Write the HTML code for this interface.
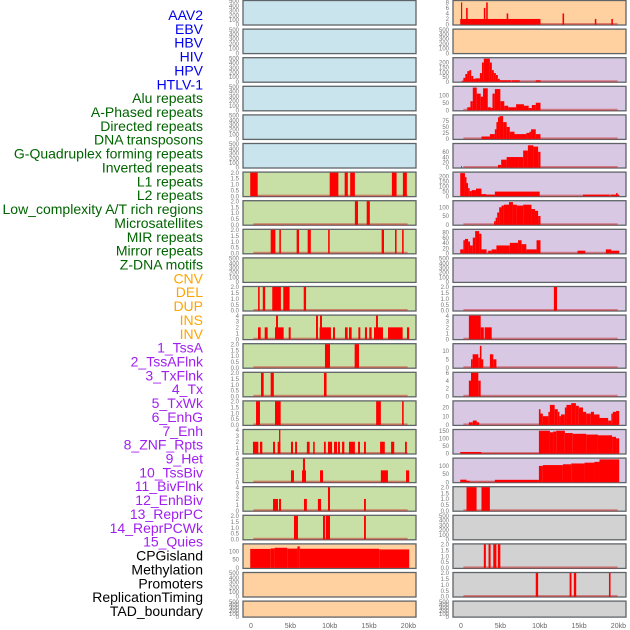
<!DOCTYPE html>
<html><head><meta charset="utf-8"><style>
body{margin:0;background:#fff;width:630px;height:630px;overflow:hidden}
svg{display:block;font-family:"Liberation Sans",sans-serif}
</style></head><body>
<svg id="c" width="630" height="630" viewBox="0 0 630 630"></svg>
<script>
const trackLabels=["AAV2","EBV","HBV","HIV","HPV","HTLV-1","Alu repeats","A-Phased repeats","Directed repeats","DNA transposons","G-Quadruplex forming repeats","Inverted repeats","L1 repeats","L2 repeats","Low_complexity A/T rich regions","Microsatellites","MIR repeats","Mirror repeats","Z-DNA motifs","CNV","DEL","DUP","INS","INV","1_TssA","2_TssAFlnk","3_TxFlnk","4_Tx","5_TxWk","6_EnhG","7_Enh","8_ZNF_Rpts","9_Het","10_TssBiv","11_BivFlnk","12_EnhBiv","13_ReprPC","14_ReprPCWk","15_Quies","CPGisland","Methylation","Promoters","ReplicationTiming","TAD_boundary"];
const labelGroups=[6,13,5,15,5];
const groupColors=["#0000ee","#006400","#ffa500","#a020f0","#000000"];
const xTicks=[0,5,10,15,20];
const xTickLabels=["0","5kb","10kb","15kb","20kb"];
const ticksEmpty=[0,100,200,300,400,500];
const ticks2=[0,0.5,1,1.5,2];
const ticks4=[0,1,2,3,4];
// left column segments [startKb,endKb,value]
const L6=[[-0.1,0.85,2],[10,11.1,2],[11.9,12.3,2],[12.6,13.2,2],[17.9,18.5,2],[19.3,19.8,2]];
const L7=[[13.2,13.6,2],[14.7,15.1,2]];
const L8=[[2.5,3.1,2],[3.6,3.8,2],[5.8,6.1,2],[7.2,7.6,2],[9.8,10,2],[16.6,16.9,2],[18.3,18.5,2],[19.2,19.4,2]];
const L10=[[0.9,1.1,2],[1.5,1.8,2],[2.7,3.8,2],[4.1,4.9,2],[6.7,7,2]];
const L11=[[0.89,1.23,2],[1.74,2.12,2],[3.05,4.15,2],[3.18,3.43,4],[4.79,5.04,2],[8.26,8.51,4],[8.72,10.16,2],[8.77,9.02,4],[10.42,10.67,2],[11.94,12.28,2],[12.45,12.79,2],[13.64,13.89,2],[14.48,14.74,2],[15.03,15.33,2],[15.63,16.77,2],[15.88,16.13,4],[17.41,19.27,2],[19.82,20.1,2]];
const L12=[[9.4,10.04,2],[13.17,13.72,2]];
const L13=[[1.27,1.61,2],[2.5,2.9,2],[9.27,9.6,2]];
const L14=[[0.64,1.14,2],[3.05,3.77,2],[15.9,16.5,2],[19.2,19.4,2]];
const L15=[[0.25,0.93,2],[1.14,1.44,2],[2.8,3.05,2],[3.39,3.73,2],[3.56,3.73,4],[5.08,5.34,2],[5.6,5.85,2],[7.1,7.45,2],[7.9,8.1,2],[9.27,9.5,2],[9.78,10.3,2],[10.55,10.93,2],[11.06,11.3,2],[11.57,11.86,2],[12.45,13.2,2],[13.6,13.85,2],[14.36,14.6,2],[16.4,17,2],[17.8,18.2,2],[19.57,19.8,2]];
const L16=[[5.08,5.46,2],[6.48,6.99,2],[6.6,6.86,4],[8.77,9.15,2],[16.5,17.4,2],[19.7,20.1,2]];
const L17=[[2.8,3.43,2],[3.56,3.81,2],[6.73,7.1,2],[8.5,8.9,2],[9.78,10.04,4],[14.36,14.6,2]];
const L18=[[5.46,5.97,2],[9.15,9.4,2],[9.5,10.04,2],[14.36,14.6,2]];
const L19=[[-0.1,2.5,113],[2.5,3,116],[3,4.6,120],[4.6,5.9,115],[5.9,6.2,128],[6.2,16.3,114],[16.3,20.1,110]];
// right column
const R0=[[-0.1,10.1,2],[0,0.15,8],[0.65,0.85,6],[2.9,3.1,6],[3.2,3.4,8],[5.8,6,4],[12.9,13.1,4],[17,17.2,2],[19.1,19.3,2]];
const R2=[[0.08,0.3,10],[0.3,0.55,40],[0.55,0.8,80],[0.8,1.05,110],[1.05,1.3,120],[1.3,1.56,60],[1.56,1.8,30],[1.8,2.4,35],[2.4,2.66,90],[2.66,2.9,200],[2.9,3.67,240],[3.67,3.92,200],[3.92,4.17,120],[4.17,4.43,90],[4.43,4.68,70],[4.68,4.93,30],[4.93,6.37,15],[6.45,7.47,15],[9.5,10.1,15]];
const R3=[[0.8,1.2,20],[1.2,1.5,60],[1.5,2,150],[2,2.5,110],[2.5,2.8,90],[2.8,3.4,145],[3.4,3.8,20],[3.8,4,15],[4,4.3,110],[4.3,5,140],[5,5.5,60],[5.5,6,30],[6,7,20],[7,8,40],[8,8.6,30],[8.6,9,15],[9,9.5,35],[9.5,10.1,50]];
const R4=[[2.6,3.67,10],[3.67,4.3,20],[4.3,4.5,40],[4.5,4.7,70],[4.7,4.9,90],[4.9,5.35,95],[5.35,5.8,70],[5.8,6.2,50],[6.2,6.8,30],[6.8,7.5,20],[7.5,8.3,20],[8.3,8.7,25],[8.7,8.9,30],[8.9,9.5,40],[9.5,10.1,20]];
const R5=[[0,0.1,5],[4.7,5.1,10],[5.1,5.8,30],[5.8,7.3,40],[7.3,7.9,40],[7.9,8.5,65],[8.5,9.2,85],[9.2,9.8,80],[9.8,10.1,60]];
const R6=[[-0.1,0.5,230],[0.5,0.7,190],[0.7,0.9,130],[0.9,1.1,80],[1.1,1.35,50],[1.35,1.9,60],[1.9,2.6,75],[2.6,3.2,20],[3.2,4.3,15],[4.3,10,45],[15.5,18.9,15],[19,19.7,15],[19.7,19.9,30],[19.9,20.1,15]];
const R7=[[4.2,4.4,20],[4.4,4.6,40],[4.6,4.85,70],[4.85,5.15,100],[5.15,5.45,110],[5.45,6.1,115],[6.1,6.6,130],[6.6,7.1,115],[7.1,7.9,110],[7.9,8.95,115],[8.95,9.4,90],[9.4,9.8,80],[9.8,10.1,50]];
const R8=[[-0.1,0.3,15],[0.3,0.5,50],[0.5,0.9,55],[0.9,1.15,45],[1.15,1.5,30],[1.5,1.8,60],[1.8,2.3,85],[2.3,2.6,75],[2.6,3.25,15],[3.45,3.9,10],[3.9,4.5,15],[4.5,6.2,30],[6.2,7.25,40],[7.25,7.7,50],[7.7,8.3,35],[8.3,9.6,15],[9.6,10.1,50],[14.8,15.8,10],[18.4,19.1,15],[19.1,20.1,10]];
const R10=[[11.8,12.2,2]];
const R11=[[1,2.5,4],[2.5,2.9,2],[3,3.9,2]];
const R12=[[1.27,1.48,5],[1.48,2.2,8],[2.2,2.4,6],[2.4,2.6,13],[2.6,2.83,5],[3.67,4.1,8],[4.1,4.5,5]];
const R13=[[1,1.27,4],[1.27,2.2,6],[2.2,2.5,4]];
const R14=[[1,1.5,3],[1.5,2,5],[2,2.3,3],[9.9,10.1,18],[10.1,10.4,13],[10.4,11.1,10],[11.1,11.3,15],[11.3,11.9,23],[11.9,12.3,18],[12.3,12.5,15],[12.5,12.7,10],[12.7,13.2,12],[13.2,13.4,20],[13.4,14,23],[14,14.6,25],[14.6,14.97,22],[14.97,15.5,20],[15.5,15.9,15],[15.9,16.5,13],[16.5,16.9,15],[16.9,17.6,12],[17.6,18.7,8],[18.7,19.1,5],[19.1,19.3,13],[19.3,19.7,15],[19.7,20.1,16]];
const R15=[[-0.1,2.6,10],[2.6,9.9,2],[9.9,11.3,150],[11.3,11.7,140],[11.7,12.1,145],[12.1,13.2,150],[13.2,14.2,135],[14.2,15.9,130],[15.9,17.4,125],[17.4,19.2,120],[19.2,19.7,110],[19.7,20.1,100]];
const R16=[[-0.1,0.7,15],[0.7,1.1,8],[1.1,4.3,2],[4.3,9.9,14],[9.9,10.4,100],[10.4,12.95,105],[12.95,14,110],[14,15.7,115],[15.7,16.96,120],[16.96,17.6,125],[17.6,20.1,140]];
const R17=[[0.7,1.98,2],[2.6,3.67,2]];
const R19=[[2.9,3.16,2],[3.5,3.76,2],[4.1,4.5,2],[4.68,5,2]];
const R20=[[9.5,9.8,2],[13.8,14.04,2],[14.34,14.64,2],[18.8,19,2]];

const BLUE="#c9e4ec",GREEN="#c8e0a5",ORANGE="#ffd1a0",PURPLE="#d8c8e3",GRAY="#d2d2d2";
// panels: [col,row,fill,yMax,ticks,segments,baseline]
const panels=[
[0,0,BLUE,500,ticksEmpty,[],0],[0,1,BLUE,500,ticksEmpty,[],0],[0,2,BLUE,500,ticksEmpty,[],0],[0,3,BLUE,500,ticksEmpty,[],0],[0,4,BLUE,500,ticksEmpty,[],0],[0,5,BLUE,500,ticksEmpty,[],0],
[0,6,GREEN,2,ticks2,L6,1],[0,7,GREEN,2,ticks2,L7,1],[0,8,GREEN,2,ticks2,L8,1],[0,9,GREEN,500,ticksEmpty,[],0],[0,10,GREEN,2,ticks2,L10,1],[0,11,GREEN,4,ticks4,L11,1],[0,12,GREEN,2,ticks2,L12,1],[0,13,GREEN,2,ticks2,L13,1],[0,14,GREEN,2,ticks2,L14,1],[0,15,GREEN,4,ticks4,L15,1],[0,16,GREEN,4,ticks4,L16,1],[0,17,GREEN,4,ticks4,L17,1],[0,18,GREEN,2,ticks2,L18,1],
[0,19,ORANGE,140,[0,50,100],L19,0],[0,20,ORANGE,500,ticksEmpty,[],0],[0,21,ORANGE,500,ticksEmpty,[],0],
[1,0,ORANGE,8.5,[0,2,4,6,8],R0,1],[1,1,ORANGE,500,ticksEmpty,[],0],[1,2,PURPLE,245,[0,50,100,150,200],R2,1],[1,3,PURPLE,155,[0,50,100],R3,1],[1,4,PURPLE,98,[0,25,50,75],R4,1],[1,5,PURPLE,90,[0,20,40,60],R5,1],[1,6,PURPLE,235,[0,50,100,150,200],R6,1],[1,7,PURPLE,135,[0,50,100],R7,1],[1,8,PURPLE,90,[0,20,40,60,80],R8,1],[1,9,PURPLE,500,ticksEmpty,[],0],[1,10,PURPLE,2,ticks2,R10,1],[1,11,PURPLE,4,ticks4,R11,1],[1,12,PURPLE,14,[0,5,10],R12,1],[1,13,PURPLE,6,[0,2,4,6],R13,1],[1,14,PURPLE,27,[0,10,20],R14,1],[1,15,PURPLE,155,[0,50,100,150],R15,1],[1,16,PURPLE,145,[0,50,100],R16,1],[1,17,GRAY,2,ticks2,R17,1],[1,18,GRAY,500,ticksEmpty,[],0],[1,19,GRAY,2,ticks2,R19,1],[1,20,GRAY,2,ticks2,R20,1],[1,21,GRAY,500,ticksEmpty,[],0]
];
const NS="http://www.w3.org/2000/svg";
const svg=document.getElementById('c');
function mk(tag,attrs,parent){const e=document.createElementNS(NS,tag);for(const k in attrs)e.setAttribute(k,attrs[k]);(parent||svg).appendChild(e);return e;}
const colX=[[243,416],[453,626]];
const x0=[251,461],kbPx=7.87;
function xScale(col,kb){return x0[col]+kb*kbPx;}
function rowTop(r){return 0.5+28.6*r;}
function rowH(r){return r===21?16:24.5;}
function yScale(r,v,yMax){const t=rowTop(r)+0.5,b=rowTop(r)+rowH(r)-0.5;return b-(v/yMax)*(b-t);}

// labels
let li=0;
labelGroups.forEach((n,g)=>{for(let k=0;k<n;k++){const t=mk('text',{x:203,y:15+13.86*li+5,'text-anchor':'end','font-size':14,fill:groupColors[g]});


t.textContent=trackLabels[li];li++;}});

panels.forEach(p=>{
const [col,row,fill,yMax,ticks,segs,base]=p;
const g=mk('g',{});


const top=rowTop(row),h=rowH(row);
const bg=mk('rect',{x:colX[col][0],y:top,width:colX[col][1]-colX[col][0],height:h,fill:fill,stroke:'#5f6468','stroke-width':1.3},g);


if(base){const bl=mk('line',{x1:xScale(col,0.3),x2:xScale(col,19.9),y1:yScale(row,0,yMax)-0.5,y2:yScale(row,0,yMax)-0.5,stroke:'rgba(200,40,40,0.5)','stroke-width':2},g);

}
segs.forEach(s=>{const xa=xScale(col,s[0]),xb=xScale(col,s[1]);const y=yScale(row,s[2],yMax);const yb=yScale(row,0,yMax);
const r=mk('rect',{x:xa,y:y,width:Math.max(1,xb-xa),height:Math.max(0,yb-y),fill:'#ff0000'},g);

});
ticks.forEach(v=>{const t=mk('text',{x:colX[col][0]-4,y:yScale(row,v,yMax)+2.2,'text-anchor':'end','font-size':6,fill:'#777'},g);


t.textContent=(ticks===ticks2)?v.toFixed(1):String(v);});
});
[0,1].forEach(col=>{xTicks.forEach((v,i)=>{const t=mk('text',{x:xScale(col,v),y:628,'text-anchor':'middle','font-size':7,fill:'#666'});


t.textContent=xTickLabels[i];});});
</script>
</body></html>
